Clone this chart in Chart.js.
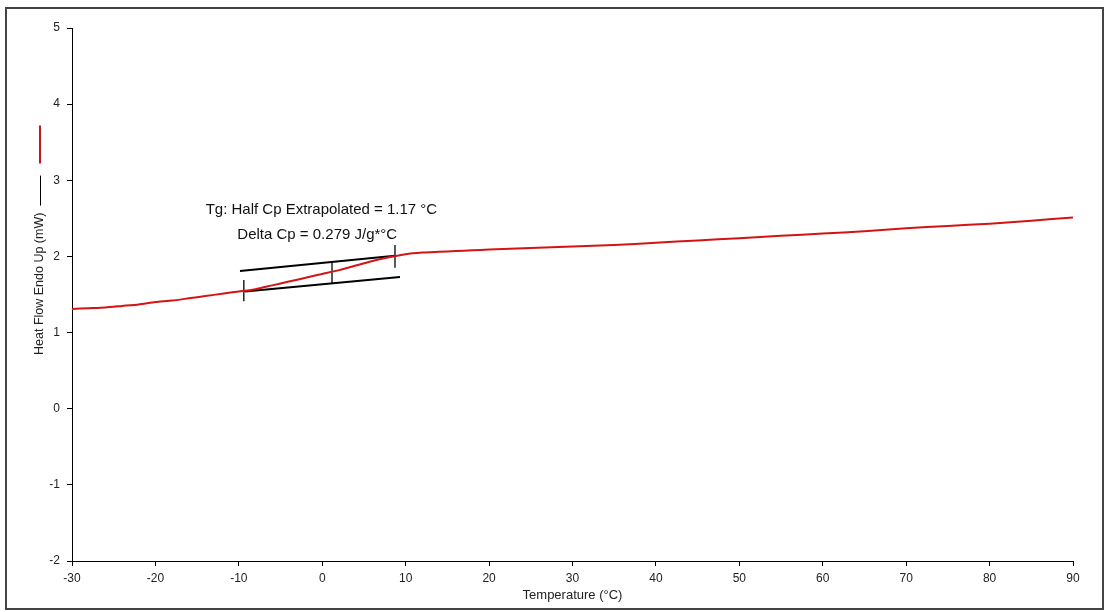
<!DOCTYPE html>
<html>
<head>
<meta charset="utf-8">
<script src="https://cdn.jsdelivr.net/npm/chart.js@4/dist/chart.umd.min.js"></script>
<style>
  body { margin: 0; background: #fff; }
  #wrap { position: relative; width: 1107px; height: 612px; }
  #frame { position: absolute; left: 5px; top: 7px; width: 1099px; height: 603px;
           box-sizing: border-box; border: 2px solid #444; pointer-events: none; }
</style>
</head>
<body>
<div id="wrap">
  <canvas id="chart" width="1107" height="612"></canvas>
  <div id="frame"></div>
</div>
<script>
// heat flow curve
var temps    = [-30, -28, -26, -24, -22, -20, -18, -16, -14, -12, -10, -8, -6, -4, -2, 0, 2, 4, 6, 8,
                10, 12, 14, 16, 18, 20, 25, 30, 35, 40, 45, 50, 55, 60, 65, 70, 75, 80, 85, 90];
var heatFlow = [1.31, 1.32, 1.33, 1.35, 1.37, 1.40, 1.42, 1.45, 1.48, 1.51, 1.54, 1.57, 1.62, 1.67, 1.72, 1.77, 1.82, 1.88, 1.94, 1.99,
                2.03, 2.05, 2.06, 2.07, 2.08, 2.09, 2.11, 2.13, 2.15, 2.18, 2.21, 2.24, 2.27, 2.30, 2.33, 2.37, 2.40, 2.43, 2.47, 2.51];

// glass transition construction lines
var upperTangentX = [-9.86, 8.72];
var upperTangentY = [1.81, 2.01];
var lowerTangentX = [-9.26, 9.32];
var lowerTangentY = [1.54, 1.73];
var onsetX = -9.4,  onsetY = [1.41, 1.69];
var midX   = 1.17,  midY   = [1.65, 1.93];
var endX   = 8.72,  endY   = [1.85, 2.15];

var xTicks = [-30, -20, -10, 0, 10, 20, 30, 40, 50, 60, 70, 80, 90];
var yTicks = [-2, -1, 0, 1, 2, 3, 4, 5];

var tgLabel = "Tg: Half Cp Extrapolated = 1.17 °C";
var cpLabel = "Delta Cp = 0.279 J/g*°C";
var yTitle = "Heat Flow Endo Up (mW)";

function pts(xs, ys) {
  var out = [];
  for (var i = 0; i < xs.length; i++) out.push({x: xs[i], y: ys[i]});
  return out;
}
function vline(x, ys) {
  return [{x: x, y: ys[0]}, {x: x, y: ys[1]}];
}
function seg(data, width) {
  return {data: data, borderColor: "#000", borderWidth: width, pointRadius: 0, tension: 0};
}

var FONT = "'Liberation Sans', Arial, sans-serif";

// y title with its legend lines, plus the Tg texts
var extras = {
  id: "extras",
  afterDraw: function(chart) {
    var ctx = chart.ctx;
    var xs = chart.scales.x, ys = chart.scales.y;

    ctx.save();
    ctx.fillStyle = "#111";
    ctx.font = "15px " + FONT;
    ctx.textBaseline = "middle";
    ctx.textAlign = "center";
    ctx.fillText(tgLabel, xs.getPixelForValue(-0.1), ys.getPixelForValue(2.61));
    ctx.fillText(cpLabel, xs.getPixelForValue(-0.6), ys.getPixelForValue(2.28));
    ctx.restore();

    ctx.save();
    ctx.translate(40, 355);
    ctx.rotate(-Math.PI / 2);
    ctx.font = "12.5px " + FONT;
    ctx.fillStyle = "#222";
    ctx.textBaseline = "middle";
    ctx.textAlign = "left";
    ctx.fillText(yTitle, 0, 0);
    var w = ctx.measureText(yTitle).width;
    ctx.strokeStyle = "#000";
    ctx.lineWidth = 1;
    ctx.beginPath();
    ctx.moveTo(w + 7, 0.5);
    ctx.lineTo(w + 37, 0.5);
    ctx.stroke();
    ctx.strokeStyle = "#c0161c";
    ctx.lineWidth = 2;
    ctx.beginPath();
    ctx.moveTo(w + 49, 0);
    ctx.lineTo(w + 87, 0);
    ctx.stroke();
    ctx.restore();
  }
};

new Chart(document.getElementById("chart"), {
  type: "line",
  data: {
    datasets: [
      {data: pts(temps, heatFlow), borderColor: "#d41414", borderWidth: 2, pointRadius: 0, tension: 0.2},
      seg(pts(upperTangentX, upperTangentY), 2),
      seg(pts(lowerTangentX, lowerTangentY), 2),
      seg(vline(onsetX, onsetY), 1.3),
      seg(vline(midX, midY), 1.3),
      seg(vline(endX, endY), 1.3)
    ]
  },
  options: {
    responsive: false,
    animation: false,
    layout: {padding: {top: 28, right: 34, left: 0, bottom: 0}},
    plugins: {legend: {display: false}, tooltip: {enabled: false}},
    scales: {
      x: {
        type: "linear", min: -30, max: 90,
        afterBuildTicks: function(s) { s.ticks = xTicks.map(function(v) { return {value: v}; }); },
        afterFit: function(s) { s.height = 51; },
        grid: {drawOnChartArea: false, drawTicks: true, tickLength: 5, color: "#000"},
        border: {display: true, color: "#000", width: 1},
        ticks: {color: "#222", padding: 5, font: {family: FONT, size: 12}, maxRotation: 0},
        title: {display: true, text: "Temperature (°C)", color: "#222",
                font: {family: FONT, size: 13}, padding: {top: 0, bottom: 9}}
      },
      y: {
        min: -2, max: 5,
        afterBuildTicks: function(s) { s.ticks = yTicks.map(function(v) { return {value: v}; }); },
        afterFit: function(s) { s.width = 72; },
        grid: {drawOnChartArea: false, drawTicks: true, tickLength: 5, color: "#000"},
        border: {display: true, color: "#000", width: 1},
        ticks: {color: "#222", padding: 7, font: {family: FONT, size: 12}}
      }
    }
  },
  plugins: [extras]
});
</script>
</body>
</html>
